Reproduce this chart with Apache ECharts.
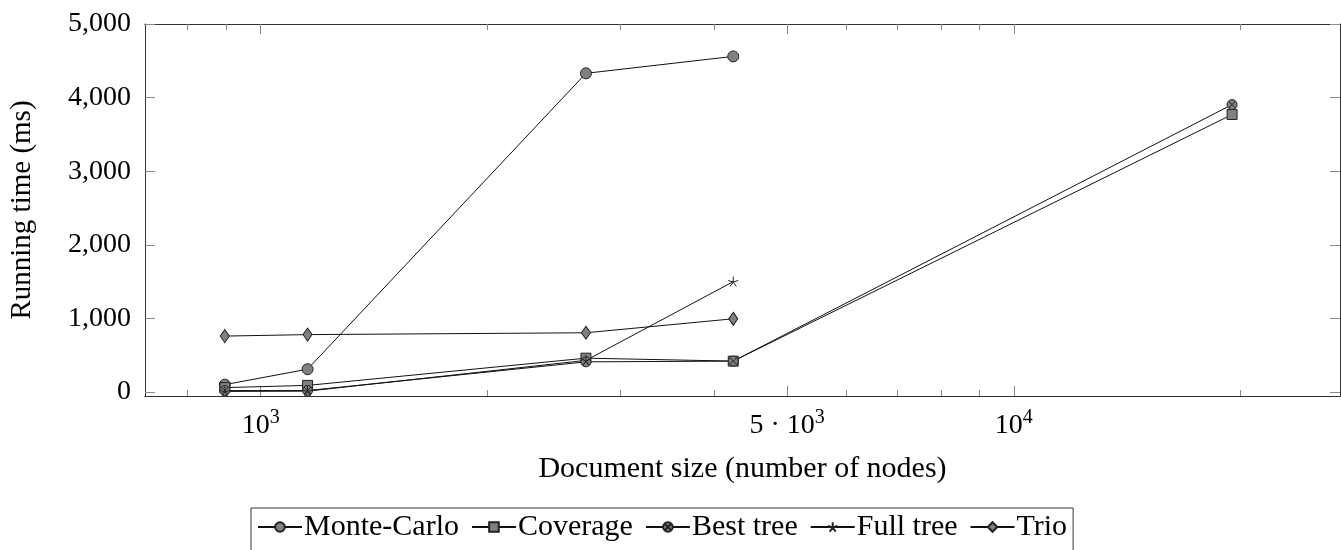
<!DOCTYPE html>
<html>
<head>
<meta charset="utf-8">
<script src="https://cdn.jsdelivr.net/npm/echarts@6/dist/echarts.min.js"></script>
<style>
  html, body { margin: 0; padding: 0; background: #fff; }
  #chart { width: 1341px; height: 550px; }
</style>
</head>
<body>
<div id="chart"></div>
<script>
// document sizes (number of nodes)
const docSizes = [896, 1154, 2703, 4241, 19490]
// running times in ms
const monteCarlo = [100, 310, 4330, 4560]
const coverage = [60, 90, 460, 420, 3770]
const bestTree = [20, 20, 410, 420, 3905]
const fullTree = [8, 12, 430, 1500]
const trio = [760, 780, 805, 995]

const yTicks = [0, 1000, 2000, 3000, 4000, 5000]
const xMajorTicks = [1000, 5000, 10000]
const xMinorTicks = [800, 900, 2000, 3000, 4000, 6000, 7000, 8000, 9000, 20000]

const font = '"Liberation Serif", "DejaVu Serif", serif'
const fs = 28
const starPath = 'path://M0 0L0 -1M0 0L0.951 -0.309M0 0L0.588 0.809M0 0L-0.588 0.809M0 0L-0.951 -0.309'
const otimesPath = 'path://M0 -1A1 1 0 1 1 0 1A1 1 0 1 1 0 -1ZM-0.7 -0.7L0.7 0.7M0.7 -0.7L-0.7 0.7'

function pairs(vals) {
    return vals.map((v, i) => [docSizes[i], v])
}

function mkSeries(name, vals, symbol, size) {
    return {
        name: name,
        type: 'line',
        data: pairs(vals),
        symbol: symbol,
        symbolSize: size,
        showAllSymbol: true,
        lineStyle: { color: '#111', width: 1 },
        itemStyle: { color: '#808080', borderColor: '#222', borderWidth: 1 },
        emphasis: { disabled: true },
        animation: false
    }
}

function xAxisDef(position, ticks, len, labels) {
    return {
        type: 'log',
        logBase: 10,
        min: 702,
        max: 27110,
        position: position,
        axisLine: { show: true, onZero: false, lineStyle: { color: '#333', width: 1 } },
        axisTick: { show: true, inside: true, length: len, customValues: ticks, lineStyle: { color: '#888' } },
        axisLabel: labels ? {
            show: true,
            customValues: xMajorTicks,
            margin: 12,
            color: '#000',
            fontFamily: font,
            fontSize: fs,
            formatter: function (v) {
                if (v === 1000) return '{n|10}{s|3}'
                if (v === 5000) return '{n|5 · 10}{s|3}'
                if (v === 10000) return '{n|10}{s|4}'
                return ''
            },
            rich: {
                n: { fontFamily: font, fontSize: fs, color: '#000' },
                s: { fontFamily: font, fontSize: 20, color: '#000', padding: [0, 0, 16, 0] }
            }
        } : { show: false },
        splitLine: { show: false }
    }
}

function yAxisDef(position, labels) {
    return {
        type: 'value',
        min: -54,
        max: 5000,
        position: position,
        axisLine: { show: true, onZero: false, lineStyle: { color: '#333', width: 1 } },
        axisTick: { show: true, inside: true, length: 10, customValues: yTicks, lineStyle: { color: '#888' } },
        axisLabel: labels ? {
            show: true,
            customValues: yTicks,
            margin: 14,
            color: '#000',
            fontFamily: font,
            fontSize: fs,
            formatter: v => v.toLocaleString('en-US')
        } : { show: false },
        splitLine: { show: false }
    }
}

const myChart = echarts.init(document.getElementById('chart'))

const xBottom = xAxisDef('bottom', xMajorTicks, 10, true)
xBottom.name = 'Document size (number of nodes)'
xBottom.nameLocation = 'middle'
xBottom.nameGap = 58
xBottom.nameTextStyle = { fontFamily: font, fontSize: 30, color: '#000' }

const yLeft = yAxisDef('left', true)
yLeft.name = 'Running time (ms)'
yLeft.nameLocation = 'middle'
yLeft.nameGap = 108
yLeft.nameTextStyle = { fontFamily: font, fontSize: 29, color: '#000' }

myChart.setOption({
    animation: false,
    grid: { left: 142, right: 1, top: 24, bottom: 154, containLabel: false },
    xAxis: [
        xBottom,
        xAxisDef('bottom', xMinorTicks, 6, false),
        xAxisDef('top', xMajorTicks, 10, false),
        xAxisDef('top', xMinorTicks, 6, false)
    ],
    yAxis: [
        yLeft,
        yAxisDef('right', false)
    ],
    legend: {
        left: 251,
        top: 508,
        orient: 'horizontal',
        itemWidth: 44,
        itemHeight: 12,
        itemGap: 12,
        padding: [4, 6, 30, 6],
        borderColor: '#333',
        borderWidth: 1,
        textStyle: { fontFamily: font, fontSize: 30, color: '#000', padding: [0, 0, 0, -3] },
        data: ['Monte-Carlo', 'Coverage', 'Best tree', 'Full tree', 'Trio']
    },
    series: [
        mkSeries('Monte-Carlo', monteCarlo, 'circle', 11),
        mkSeries('Coverage', coverage, 'rect', 10),
        mkSeries('Best tree', bestTree, otimesPath, 10),
        mkSeries('Full tree', fullTree, starPath, 10),
        mkSeries('Trio', trio, 'diamond', [9, 13])
    ]
})
</script>
</body>
</html>
